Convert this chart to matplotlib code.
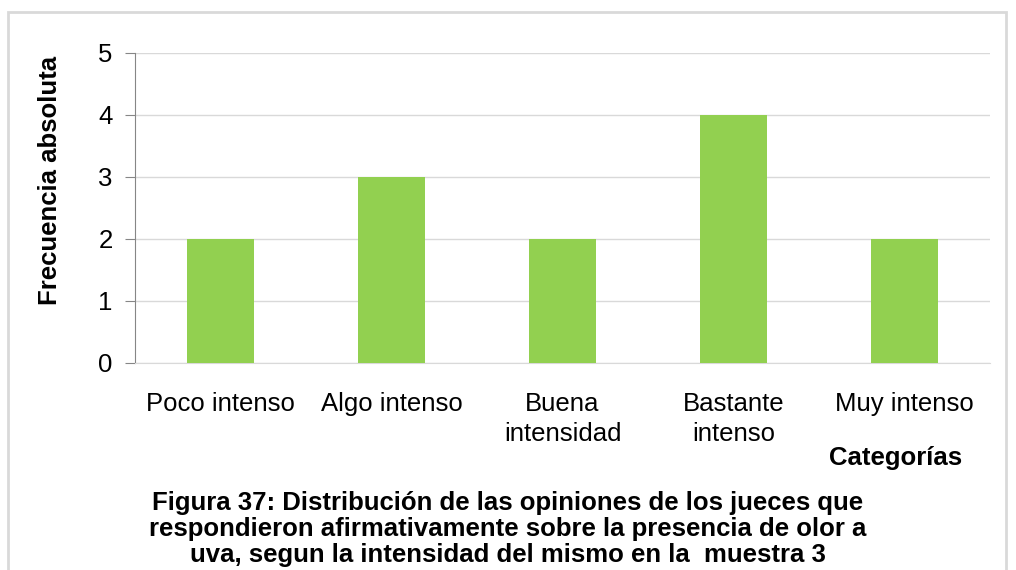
import matplotlib.pyplot as plt
from matplotlib.patches import Rectangle

categories = ["Poco intenso", "Algo intenso", "Buena\nintensidad", "Bastante\nintenso", "Muy intenso"]
values = [2, 3, 2, 4, 2]
y_ticks = [0, 1, 2, 3, 4, 5]

plt.rcParams["font.family"] = ["Liberation Sans", "DejaVu Sans"]

W, H = 1016, 570
fig = plt.figure(figsize=(W / 100, H / 100), dpi=100)

# light gray frame around the chart area
fig.patches.append(
    Rectangle((8 / W, -0.1), 998 / W, 1.1 - 12 / H, transform=fig.transFigure,
              fill=False, edgecolor="#d9d9d9", linewidth=2)
)

ax = fig.add_axes([135 / W, (H - 363) / H, 855 / W, 310 / H])

x = range(len(categories))
ax.bar(x, values, width=0.39, color="#92d050", zorder=3)

ax.set_xlim(-0.5, len(categories) - 0.5)
ax.set_ylim(0, 5)
ax.set_yticks(y_ticks)
ax.set_xticks(list(x))
ax.set_xticklabels(categories, fontsize=18.5, linespacing=1.3)
ax.tick_params(axis="x", length=0, pad=21)
ax.tick_params(axis="y", length=7, color="#868686", labelsize=18.5, pad=9)

ax.grid(axis="y", color="#d9d9d9", linewidth=1, zorder=0)
for side in ["top", "right"]:
    ax.spines[side].set_visible(False)
ax.spines["left"].set_color("#868686")
ax.spines["bottom"].set_color("#d9d9d9")

fig.text(50 / W, 1 - 180 / H, "Frecuencia absoluta", rotation=90, fontsize=18.5,
         fontweight="bold", ha="center", va="center")
fig.text(896 / W, 1 - 458 / H, "Categorías", fontsize=18.5, fontweight="bold",
         ha="center", va="center")
fig.text(508 / W, 1 - 529 / H,
         "Figura 37: Distribución de las opiniones de los jueces que\n"
         "respondieron afirmativamente sobre la presencia de olor a\n"
         "uva, segun la intensidad del mismo en la  muestra 3",
         fontsize=18.5, fontweight="bold", ha="center", va="center",
         linespacing=1.13)

plt.savefig("out.png", dpi=100)
plt.close()
